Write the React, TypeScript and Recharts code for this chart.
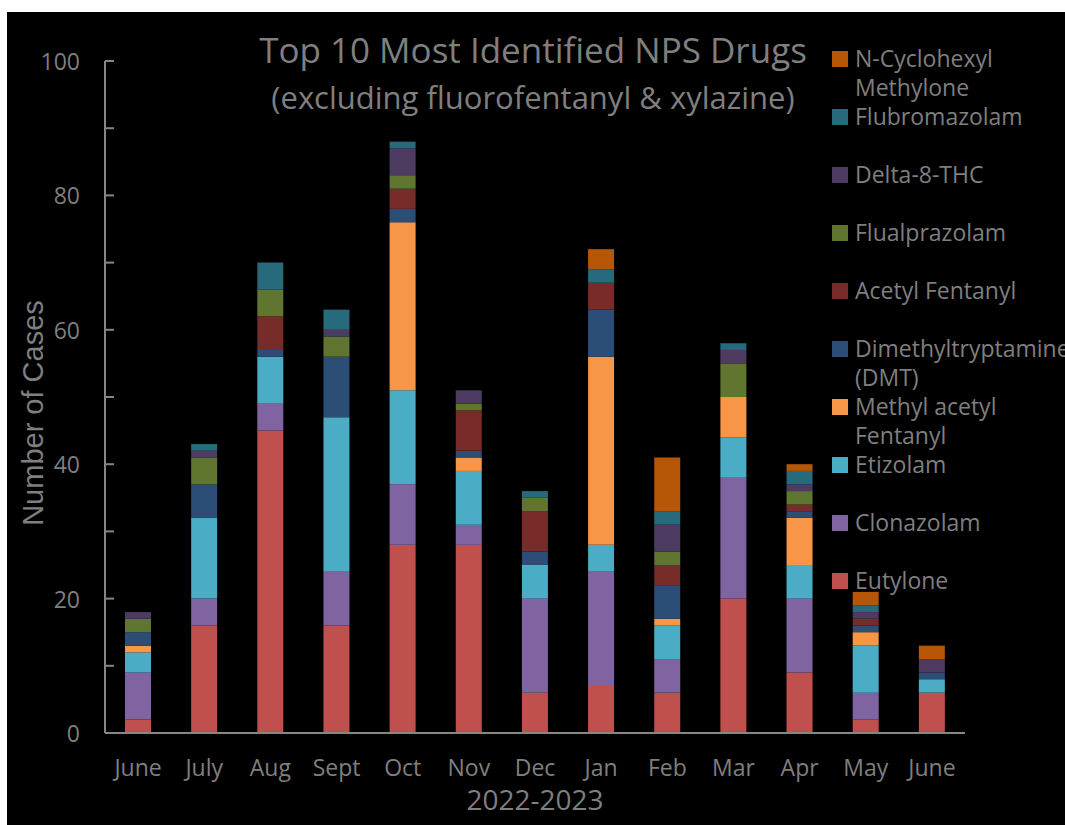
import React from 'react'
import { BarChart, Bar, XAxis, YAxis } from 'recharts'

const months = ['June', 'July', 'Aug', 'Sept', 'Oct', 'Nov', 'Dec', 'Jan', 'Feb', 'Mar', 'Apr', 'May', 'June']

// stacked bottom -> top
const eutylone = [2, 16, 45, 16, 28, 28, 6, 7, 6, 20, 9, 2, 6]
const clonazolam = [7, 4, 4, 8, 9, 3, 14, 17, 5, 18, 11, 4, 0]
const etizolam = [3, 12, 7, 23, 14, 8, 5, 4, 5, 6, 5, 7, 2]
const methylAcetylFentanyl = [1, 0, 0, 0, 25, 2, 0, 28, 1, 6, 7, 2, 0]
const dmt = [2, 5, 1, 9, 2, 1, 2, 7, 5, 0, 1, 1, 1]
const acetylFentanyl = [0, 0, 5, 0, 3, 6, 6, 4, 3, 0, 1, 1, 0]
const flualprazolam = [2, 4, 4, 3, 2, 1, 2, 0, 2, 5, 2, 0, 0]
const delta8 = [1, 1, 0, 1, 4, 2, 0, 0, 4, 2, 1, 1, 2]
const flubromazolam = [0, 1, 4, 3, 1, 0, 1, 2, 2, 1, 2, 1, 0]
const nCyclohexyl = [0, 0, 0, 0, 0, 0, 0, 3, 8, 0, 1, 2, 2]

const yTicks = [0, 10, 20, 30, 40, 50, 60, 70, 80, 90, 100]

const series = [
  { key: 'eut', name: 'Eutylone', values: eutylone, color: '#C0504D' },
  { key: 'clo', name: 'Clonazolam', values: clonazolam, color: '#8064A2' },
  { key: 'eti', name: 'Etizolam', values: etizolam, color: '#4BACC6' },
  { key: 'maf', name: 'Methyl acetyl Fentanyl', values: methylAcetylFentanyl, color: '#F79646' },
  { key: 'dmt', name: 'Dimethyltryptamine (DMT)', values: dmt, color: '#2C4D75' },
  { key: 'acf', name: 'Acetyl Fentanyl', values: acetylFentanyl, color: '#772C2A' },
  { key: 'flu', name: 'Flualprazolam', values: flualprazolam, color: '#5F7530' },
  { key: 'd8', name: 'Delta-8-THC', values: delta8, color: '#4D3B62' },
  { key: 'fbr', name: 'Flubromazolam', values: flubromazolam, color: '#276A7C' },
  { key: 'ncm', name: 'N-Cyclohexyl Methylone', values: nCyclohexyl, color: '#B65708' },
]

const rows = months.map((m, i) => {
  const r: Record<string, string | number> = { month: m, idx: i }
  series.forEach(s => { r[s.key] = s.values[i] })
  return r
})

const W = 1058
const H = 813
const AXIS_X = 98
const PLOT_BOTTOM = 721
const GREY = '#7f7f7f'
const FONT = '"Open Sans", sans-serif'

const YTick = ({ y, payload }: any) => (
  <g>
    <line x1={AXIS_X} x2={AXIS_X + 9} y1={y} y2={y} stroke="#868686" strokeWidth={2} />
    {payload.value % 20 === 0 && (
      <text x={AXIS_X - 25} y={y} textAnchor="end" dominantBaseline="central"
        fill={GREY} fontSize={23} fontFamily={FONT}>{payload.value}</text>
    )}
  </g>
)

const XTick = ({ x, payload }: any) => (
  <text x={x} y={PLOT_BOTTOM + 34} textAnchor="middle" dominantBaseline="central"
    fill={GREY} fontSize={23} fontFamily={FONT}>{months[payload.value]}</text>
)

export default function App() {
  const legendItems = [...series].reverse()
  return (
    <div style={{ position: 'absolute', left: 7, top: 12, width: W, height: H, background: '#000', overflow: 'hidden', fontFamily: FONT }}>
      <BarChart width={W} height={H} data={rows} margin={{ top: 49, right: 100, bottom: 0, left: 0 }}>
        <XAxis dataKey="idx" type="category" height={92} tickLine={false}
          axisLine={{ stroke: '#868686', strokeWidth: 2 }} tick={<XTick />} interval={0} />
        <YAxis width={AXIS_X} domain={[0, 100]} ticks={yTicks} tickLine={false}
          axisLine={{ stroke: '#868686', strokeWidth: 2 }} tick={<YTick />} interval={0} />
        {series.map(s => (
          <Bar key={s.key} dataKey={s.key} name={s.name} stackId="a" fill={s.color}
            barSize={26} isAnimationActive={false} />
        ))}
      </BarChart>

      <div style={{ position: 'absolute', left: 176, width: 700, top: 18, textAlign: 'center', color: GREY, fontSize: 35, lineHeight: '40px' }}>
        Top 10 Most Identified NPS Drugs
      </div>
      <div style={{ position: 'absolute', left: 176, width: 700, top: 67, textAlign: 'center', color: GREY, fontSize: 31, lineHeight: '36px' }}>
        (excluding fluorofentanyl &amp; xylazine)
      </div>
      <div style={{ position: 'absolute', left: 26, top: 401, transform: 'translate(-50%, -50%) rotate(-90deg)', whiteSpace: 'nowrap', color: GREY, fontSize: 29, lineHeight: '32px', fontFamily: '"Liberation Sans", Arial, sans-serif' }}>
        Number of Cases
      </div>
      <div style={{ position: 'absolute', left: 528, top: 787, transform: 'translate(-50%, -50%)', whiteSpace: 'nowrap', color: GREY, fontSize: 28, lineHeight: '22px' }}>
        2022-2023
      </div>

      {legendItems.map((s, i) => (
        <div key={s.key} style={{ position: 'absolute', left: 825, top: 47 - 15 + i * 58, display: 'flex', alignItems: 'flex-start' }}>
          <div style={{ width: 16, height: 16, background: s.color, marginTop: 7, flex: 'none' }} />
          <div style={{ marginLeft: 7, width: 195, color: GREY, fontSize: 23, lineHeight: '29px' }}>{s.name}</div>
        </div>
      ))}
    </div>
  )
}
